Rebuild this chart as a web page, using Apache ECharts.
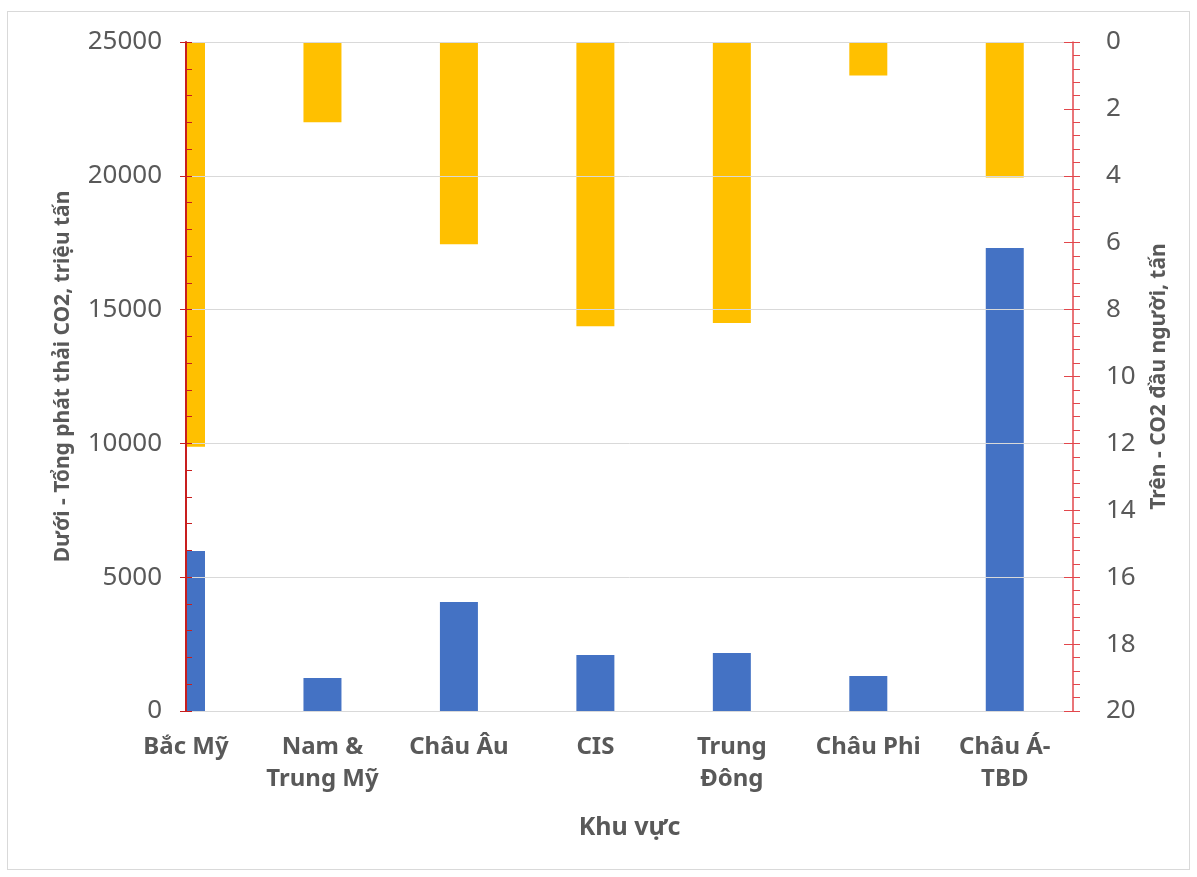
<!DOCTYPE html>
<html>
<head>
<meta charset="utf-8">
<script src="https://cdn.jsdelivr.net/npm/echarts@6/dist/echarts.min.js"></script>
<style>
  html, body { margin: 0; padding: 0; background: #fff; }
  #frame {
    position: absolute; left: 7px; top: 11px; width: 1183px; height: 859px;
    border: 1px solid #d9d9d9; box-sizing: border-box;
  }
  #main { position: absolute; left: 0; top: 0; width: 1197px; height: 877px; }
</style>
</head>
<body>
<div id="frame"></div>
<div id="main"></div>
<script>
// regions (x axis)
const regions = ["Bắc Mỹ", "Nam &\nTrung Mỹ", "Châu Âu", "CIS", "Trung\nĐông", "Châu Phi", "Châu Á-\nTBD"];
// total CO2 emissions, million tonnes (left axis)
const totalEmissions = [5980, 1230, 4070, 2090, 2170, 1310, 17300];
// CO2 per capita, tonnes (right axis, inverted)
const perCapita = [12.1, 2.4, 6.05, 8.5, 8.4, 1.0, 4.05];

const FONT = "Noto Sans";
const GREY = "#595959";
const RED_L = "#C81E1E";
const RED_R = "#E2474C";

const chart = echarts.init(document.getElementById("main"), null, { renderer: "canvas" });

const option = {
  backgroundColor: "transparent",
  animation: false,
  textStyle: { fontFamily: FONT },
  grid: { left: 186, right: 124, top: 42, bottom: 166, containLabel: false },
  // the first category sits on the left edge, so hide the half bar that spills past it
  graphic: [{
    type: "rect",
    z: 3,
    shape: { x: 164, y: 30, width: 21, height: 690 },
    style: { fill: "#fff" }
  }],
  xAxis: {
    type: "value",
    min: 0,
    max: 6.5,
    interval: 1,
    name: "Khu vực",
    nameLocation: "middle",
    nameGap: 104,
    nameTextStyle: { fontFamily: FONT, fontSize: 25, fontWeight: "bold", color: GREY },
    axisLine: { show: true, lineStyle: { color: "#d9d9d9", width: 1 } },
    axisTick: { show: false },
    splitLine: { show: false },
    axisLabel: {
      margin: 20,
      fontFamily: FONT,
      fontSize: 24,
      fontWeight: "bold",
      color: GREY,
      lineHeight: 32,
      showMaxLabel: true,
      formatter: function (v) {
        return Number.isInteger(v) && regions[v] !== undefined ? regions[v] : "";
      }
    }
  },
  yAxis: [
    {
      type: "value",
      position: "left",
      min: 0,
      max: 25000,
      interval: 5000,
      z: 5,
      name: "Dưới - Tổng phát thải CO2, triệu tấn",
      nameLocation: "middle",
      nameRotate: 90,
      nameGap: 112,
      nameTextStyle: { fontFamily: FONT, fontSize: 21, fontWeight: "bold", color: GREY },
      axisLine: { show: true, lineStyle: { color: RED_L, width: 2 } },
      axisTick: { show: true, inside: false, length: 6, lineStyle: { color: RED_L } },
      splitLine: { show: true, lineStyle: { color: "#d9d9d9", width: 1 } },
      axisLabel: {
        margin: 24, fontFamily: FONT, fontSize: 26, color: GREY,
        formatter: function (v) { return String(v); }
      }
    },
    {
      type: "value",
      position: "right",
      min: 0,
      max: 20,
      interval: 2,
      inverse: true,
      z: 5,
      name: "Trên - CO2 đầu người, tấn",
      nameLocation: "middle",
      nameRotate: 90,
      nameGap: 76,
      nameTextStyle: { fontFamily: FONT, fontSize: 21, fontWeight: "bold", color: GREY },
      axisLine: { show: true, lineStyle: { color: RED_R, width: 1.5 } },
      axisTick: { show: true, inside: false, length: 7, lineStyle: { color: RED_R } },
      minorTick: { show: true, splitNumber: 5, length: 7, lineStyle: { color: RED_R } },
      splitLine: { show: false },
      axisLabel: { margin: 33, fontFamily: FONT, fontSize: 26, color: GREY }
    },
    {
      // inner minor ticks of the left axis
      type: "value",
      position: "left",
      min: 0,
      max: 25000,
      interval: 1000,
      z: 5,
      axisLine: { show: false },
      axisTick: { show: true, inside: true, length: 6, lineStyle: { color: RED_L } },
      splitLine: { show: false },
      axisLabel: { show: false }
    },
    {
      // inner half of the crossing major ticks on the right axis
      type: "value",
      position: "right",
      min: 0,
      max: 20,
      interval: 2,
      inverse: true,
      z: 5,
      axisLine: { show: false },
      axisTick: { show: true, inside: true, length: 9, lineStyle: { color: RED_R } },
      splitLine: { show: false },
      axisLabel: { show: false }
    }
  ],
  series: [
    {
      name: "Tổng phát thải",
      type: "bar",
      yAxisIndex: 0,
      barWidth: 38,
      barGap: "-100%",
      clip: true,
      itemStyle: { color: "#4472C4" },
      data: totalEmissions.map((v, i) => [i, v])
    },
    {
      name: "CO2 đầu người",
      type: "bar",
      yAxisIndex: 1,
      barWidth: 38,
      barGap: "-100%",
      clip: true,
      itemStyle: { color: "#FFC000" },
      data: perCapita.map((v, i) => [i, v])
    }
  ]
};

chart.setOption(option);
</script>
</body>
</html>
